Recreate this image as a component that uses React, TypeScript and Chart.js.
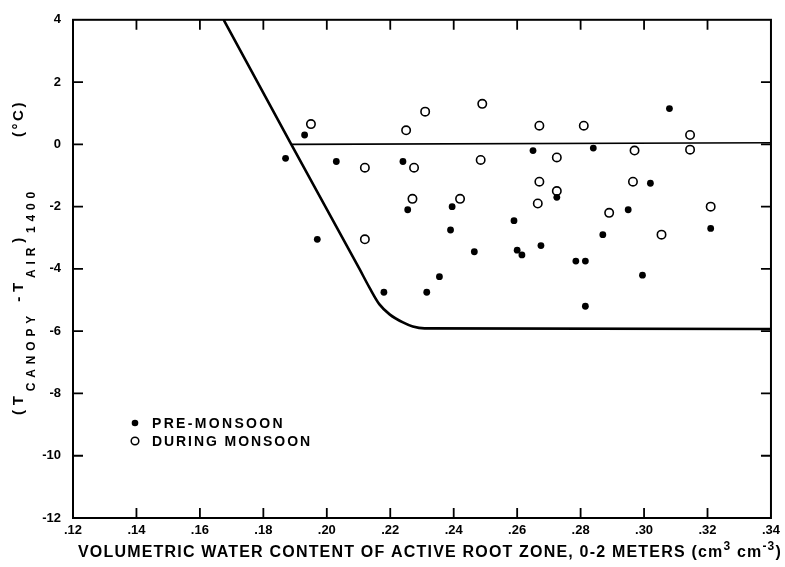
import React, { useEffect, useRef } from "react";
import { Chart, registerables } from "chart.js";

Chart.register(...registerables);

// ---- data ----
const preMonsoonX = [0.193, 0.187, 0.203, 0.197, 0.224, 0.2255, 0.2395, 0.239, 0.2465, 0.2355, 0.2315, 0.218, 0.259, 0.26, 0.2615, 0.2675, 0.265, 0.2725, 0.2785, 0.2815, 0.2815, 0.284, 0.287, 0.295, 0.2995, 0.302, 0.308, 0.321];
const preMonsoonY = [0.3, -0.45, -0.55, -3.05, -0.55, -2.1, -2.0, -2.75, -3.45, -4.25, -4.75, -4.75, -2.45, -3.4, -3.55, -3.25, -0.2, -1.7, -3.75, -3.75, -5.2, -0.12, -2.9, -2.1, -4.2, -1.25, 1.15, -2.7];

const duringMonsoonX = [0.195, 0.212, 0.212, 0.225, 0.2275, 0.231, 0.227, 0.242, 0.2485, 0.249, 0.2665, 0.267, 0.267, 0.2725, 0.2725, 0.281, 0.289, 0.2965, 0.297, 0.3055, 0.3145, 0.3145, 0.321];
const duringMonsoonY = [0.65, -0.75, -3.05, 0.45, -0.75, 1.05, -1.75, -1.75, -0.5, 1.3, -1.9, 0.6, -1.2, -0.42, -1.5, 0.6, -2.2, -1.2, -0.2, -2.9, 0.3, -0.17, -2.0];

// lower (non-stressed) baseline curve
const baselineX = [0.1675, 0.1888, 0.2103, 0.2135, 0.2166, 0.2198, 0.224, 0.2271, 0.2308, 0.34];
const baselineY = [4, 0, -4.0, -4.61, -5.14, -5.46, -5.72, -5.85, -5.91, -5.93];

// upper (zero) line
const zeroLineX = [0.1888, 0.34];
const zeroLineY = [0, 0.05];

const xTicks = [0.12, 0.14, 0.16, 0.18, 0.2, 0.22, 0.24, 0.26, 0.28, 0.3, 0.32, 0.34];
const xTickLabels = [".12", ".14", ".16", ".18", ".20", ".22", ".24", ".26", ".28", ".30", ".32", ".34"];
const yTicks = [4, 2, 0, -2, -4, -6, -8, -10, -12];
const yTickLabels = ["4", "2", "0", "-2", "-4", "-6", "-8", "-10", "-12"];

const legendLabels = ["PRE-MONSOON", "DURING MONSOON"];

const FAM = "'Liberation Sans', Arial, sans-serif";

const zip = (xs: number[], ys: number[]) => xs.map((x, i) => ({ x, y: ys[i] }));

type Seg = { t: string; size: number; dy?: number };

function drawRich(ctx: CanvasRenderingContext2D, segs: Seg[], x: number, y: number, target: number) {
  const anyCtx = ctx as any;
  const measure = () =>
    segs.reduce((a, s) => {
      ctx.font = `bold ${s.size}px ${FAM}`;
      return a + ctx.measureText(s.t).width;
    }, 0);
  anyCtx.letterSpacing = "0px";
  let W = measure();
  const n = segs.reduce((a, s) => a + s.t.length, 0);
  const ls = Math.max(0, (target - W) / n);
  anyCtx.letterSpacing = ls.toFixed(2) + "px";
  W = measure();
  const k = target / W;
  ctx.save();
  ctx.translate(x, y);
  ctx.scale(k, 1);
  ctx.textAlign = "left";
  ctx.textBaseline = "alphabetic";
  ctx.fillStyle = "#000";
  let cx = 0;
  for (const s of segs) {
    ctx.font = `bold ${s.size}px ${FAM}`;
    ctx.fillText(s.t, cx, s.dy || 0);
    cx += ctx.measureText(s.t).width;
  }
  ctx.restore();
  anyCtx.letterSpacing = "0px";
}

const framePlugin = {
  id: "frameAndText",
  afterDraw(chart: any) {
    const ctx: CanvasRenderingContext2D = chart.ctx;
    const { left, right, top, bottom } = chart.chartArea;
    const xs = chart.scales.x;
    const ys = chart.scales.y;
    ctx.save();
    ctx.strokeStyle = "#000";
    ctx.lineWidth = 2;
    ctx.strokeRect(left, top, right - left, bottom - top);
    ctx.lineWidth = 1.8;
    const tl = 10;
    ctx.beginPath();
    xTicks.slice(1, -1).forEach((v) => {
      const px = xs.getPixelForValue(v);
      ctx.moveTo(px, bottom);
      ctx.lineTo(px, bottom - tl);
      ctx.moveTo(px, top);
      ctx.lineTo(px, top + tl);
    });
    yTicks.slice(1, -1).forEach((v) => {
      const py = ys.getPixelForValue(v);
      ctx.moveTo(left, py);
      ctx.lineTo(left + tl, py);
      ctx.moveTo(right, py);
      ctx.lineTo(right - tl, py);
    });
    ctx.stroke();

    // legend
    const lx = 135;
    const ly = [423, 441];
    ctx.fillStyle = "#000";
    ctx.beginPath();
    ctx.arc(lx, ly[0], 3.3, 0, Math.PI * 2);
    ctx.fill();
    ctx.beginPath();
    ctx.lineWidth = 1.5;
    ctx.arc(lx, ly[1], 3.8, 0, Math.PI * 2);
    ctx.stroke();
    drawRich(ctx, [{ t: legendLabels[0], size: 14 }], 152, ly[0] + 5, 133);
    drawRich(ctx, [{ t: legendLabels[1], size: 14 }], 152, ly[1] + 5, 160);

    // x title
    drawRich(
      ctx,
      [
        { t: "VOLUMETRIC WATER CONTENT OF ACTIVE ROOT ZONE, 0-2 METERS (cm", size: 16 },
        { t: "3", size: 12, dy: -7 },
        { t: " cm", size: 16 },
        { t: "-3", size: 12, dy: -7 },
        { t: ")", size: 16 },
      ],
      78,
      557,
      704
    );

    // y title (rotated)
    ctx.save();
    ctx.translate(23, 415);
    ctx.rotate(-Math.PI / 2);
    drawRich(
      ctx,
      [
        { t: "(T", size: 15 },
        { t: "CANOPY", size: 12, dy: 12 },
        { t: " -T", size: 15 },
        { t: "AIR", size: 12, dy: 12 },
        { t: ")", size: 15 },
        { t: "1400", size: 12, dy: 12 },
      ],
      0,
      0,
      228
    );
    drawRich(ctx, [{ t: "(°C)", size: 15 }], 278, 0, 37);
    ctx.restore();
    ctx.restore();
  },
};

export default function App() {
  const ref = useRef<HTMLCanvasElement | null>(null);
  useEffect(() => {
    if (!ref.current) return;
    const tickFont = { family: FAM, size: 13, weight: "bold" as const };
    const chart = new Chart(ref.current, {
      type: "scatter",
      data: {
        datasets: [
          {
            label: "baseline",
            data: zip(baselineX, baselineY),
            showLine: true,
            borderColor: "#000",
            borderWidth: 2.6,
            pointRadius: 0,
            cubicInterpolationMode: "monotone",
          } as any,
          {
            label: "zero",
            data: zip(zeroLineX, zeroLineY),
            showLine: true,
            borderColor: "#000",
            borderWidth: 1.6,
            pointRadius: 0,
          },
          {
            label: legendLabels[0],
            data: zip(preMonsoonX, preMonsoonY),
            pointRadius: 3.4,
            pointBackgroundColor: "#000",
            pointBorderColor: "#000",
            pointBorderWidth: 0,
          },
          {
            label: legendLabels[1],
            data: zip(duringMonsoonX, duringMonsoonY),
            pointRadius: 4.2,
            pointBackgroundColor: "#fff",
            pointBorderColor: "#000",
            pointBorderWidth: 1.6,
          },
        ],
      },
      options: {
        animation: false,
        responsive: false,
        devicePixelRatio: 1,
        layout: { padding: { top: 12, right: 13, left: 0, bottom: 0 } },
        plugins: { legend: { display: false }, tooltip: { enabled: false } },
        scales: {
          x: {
            type: "linear",
            min: 0.12,
            max: 0.34,
            grid: { display: false, drawTicks: false },
            border: { display: false },
            afterBuildTicks: (s: any) => {
              s.ticks = xTicks.map((v) => ({ value: v }));
            },
            afterFit: (s: any) => {
              s.height = 49;
            },
            ticks: {
              color: "#000",
              font: tickFont,
              padding: 5,
              maxRotation: 0,
              autoSkip: false,
              callback: (_v: any, i: number) => xTickLabels[i],
            },
          },
          y: {
            type: "linear",
            min: -12,
            max: 4,
            grid: { display: false, drawTicks: false },
            border: { display: false },
            afterBuildTicks: (s: any) => {
              s.ticks = yTicks.map((v) => ({ value: v }));
            },
            afterFit: (s: any) => {
              s.width = 73;
            },
            ticks: {
              color: "#000",
              font: tickFont,
              padding: 12,
              autoSkip: false,
              callback: (_v: any, i: number) => yTickLabels[i],
            },
          },
        },
      },
      plugins: [framePlugin],
    });
    return () => chart.destroy();
  }, []);
  return (
    <div style={{ position: "fixed", left: 0, top: 0, width: 785, height: 567, background: "#fff" }}>
      <canvas ref={ref} width={785} height={567} style={{ width: 785, height: 567 }} />
    </div>
  );
}
